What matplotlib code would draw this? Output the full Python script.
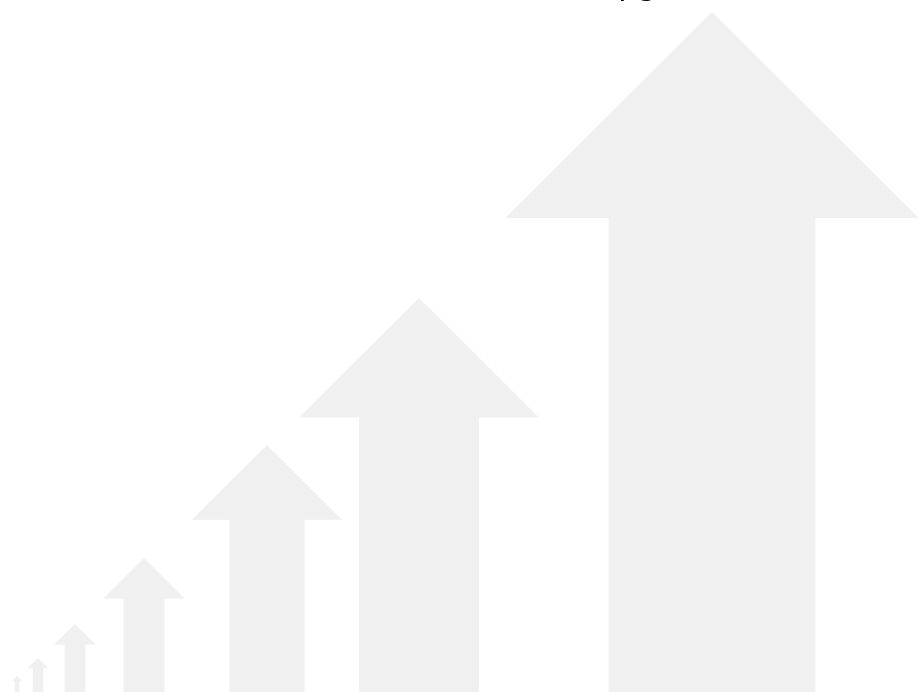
import numpy as np
import matplotlib
matplotlib.use("Agg")
import matplotlib.pyplot as plt
from matplotlib.patches import Polygon

# arrow heights (growth values) and where each arrow stands on the baseline
heights = [16, 34, 68, 134, 247, 394, 680]
centers = [17, 38, 75, 144, 267, 419, 712]
title = "Upgrade"

W, H = 920, 692

fig = plt.figure(figsize=(W / 100, H / 100), dpi=100)
ax = fig.add_axes([0, 0, 1, 1])
ax.set_xlim(0, W)
ax.set_ylim(0, H)
ax.axis("off")


def arrow_shape(cx, h):
    # head is about 45 degrees, head width ~0.61h, shaft width ~0.3h
    hw = 0.304 * h
    sw = 0.152 * h
    base = h - 0.303 * h
    return np.array([
        [cx - sw, 0], [cx - sw, base], [cx - hw, base], [cx, h],
        [cx + hw, base], [cx + sw, base], [cx + sw, 0],
    ])


for cx, h in zip(centers, heights):
    ax.add_patch(Polygon(arrow_shape(cx, h), closed=True,
                         facecolor="#f0f0f0", edgecolor="none"))

# title sits above the top edge, only the descenders show
ax.text(596, H + 5, title, fontsize=22, color="black",
        ha="left", va="baseline", clip_on=False)

fig.savefig("out.png", dpi=100)
